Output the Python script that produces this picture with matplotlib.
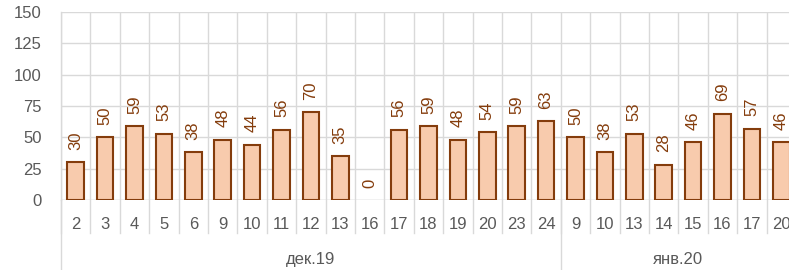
import numpy as np
import matplotlib
matplotlib.use("Agg")
import matplotlib.pyplot as plt

plt.rcParams["font.family"] = ["Liberation Sans", "DejaVu Sans"]

days = ["2", "3", "4", "5", "6", "9", "10", "11", "12", "13", "16", "17",
        "18", "19", "20", "23", "24",
        "9", "10", "13", "14", "15", "16", "17", "20"]
values = [30, 50, 59, 53, 38, 48, 44, 56, 70, 35, 0, 56,
          59, 48, 54, 59, 63,
          50, 38, 53, 28, 46, 69, 57, 46]
months = ["дек.19", "янв.20"]
month_sizes = [17, 8]

grid_c = "#D9D9D9"
text_c = "#595959"
fill_c = "#F8CBAD"
edge_c = "#843C0C"

W, H = 789, 270
fig = plt.figure(figsize=(W / 100, H / 100), dpi=100)
# plot area runs a bit past the right edge (cut off like the original)
ax = fig.add_axes([61 / W, (H - 200) / H, (796 - 61) / W, (200 - 12) / H])

x = np.arange(len(values))
lws = [1.5 if v > 0 else 0 for v in values]
ax.bar(x, values, width=0.57, color=fill_c, edgecolor=edge_c, linewidth=lws, zorder=3)

for xi, v in zip(x, values):
    ax.annotate(str(v), (xi, v), xytext=(0, 9), textcoords="offset points",
                rotation=90, ha="center", va="bottom", fontsize=12, color=edge_c)

ax.set_xlim(-0.5, len(values) - 0.5)
ax.set_ylim(0, 150)
ax.set_yticks(np.arange(0, 151, 25))
ax.set_xticks(x)
ax.set_xticklabels(days)
ax.set_xticks(np.arange(len(values) + 1) - 0.5, minor=True)
ax.tick_params(axis="both", which="both", length=0, labelsize=12, colors=text_c)
ax.tick_params(axis="x", pad=12)
ax.tick_params(axis="y", pad=14)

ax.grid(axis="y", which="major", color=grid_c, linewidth=1.0, zorder=0)
ax.grid(axis="x", which="minor", color=grid_c, linewidth=1.0, zorder=0)
for s in ax.spines.values():
    s.set_visible(False)

# separators below the axis
tr = ax.get_xaxis_transform()
ax.axhline(0, color=grid_c, linewidth=1.0, zorder=1)
edges = np.cumsum([0] + month_sizes) - 0.5
for b in np.arange(len(values) + 1) - 0.5:
    ax.plot([b, b], [0, -0.175], transform=tr, color=grid_c, lw=1.0, clip_on=False)
for b in edges:
    ax.plot([b, b], [0, -0.4], transform=tr, color=grid_c, lw=1.0, clip_on=False)
ax.plot([-0.5, -0.5], [0, 1], transform=tr, color=grid_c, lw=1.0, clip_on=False)

for i, m in enumerate(months):
    ax.text((edges[i] + edges[i + 1]) / 2, -0.315, m, transform=tr,
            ha="center", va="center", fontsize=12, color=text_c)

fig.savefig("out.png", dpi=100)
